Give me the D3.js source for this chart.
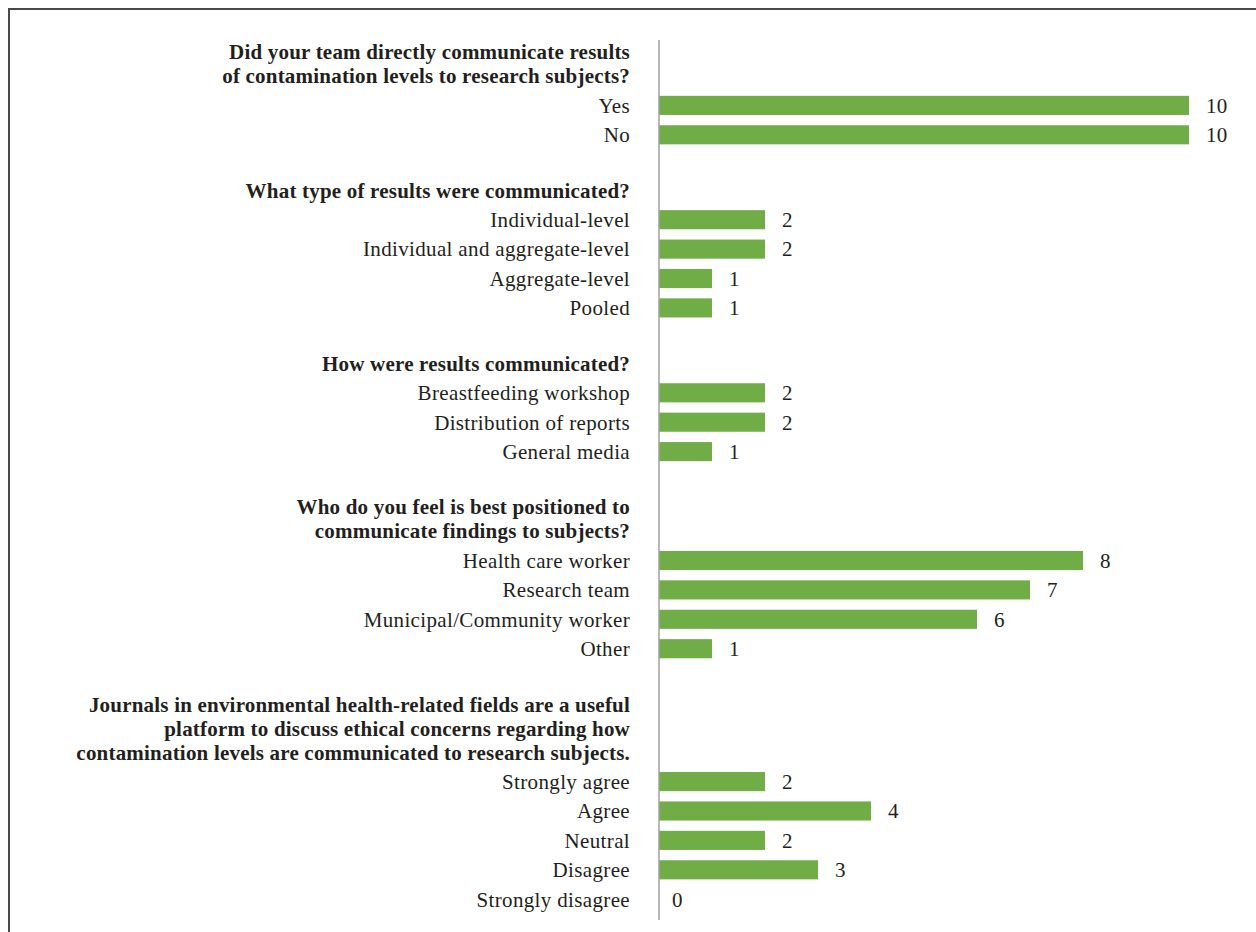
<!DOCTYPE html>
<html><head><meta charset="utf-8">
<script src="https://cdn.jsdelivr.net/npm/d3@7"></script>
<style>
html,body{margin:0;padding:0;background:#fff;}
svg{display:block;}
</style></head>
<body>
<svg id="chart" width="1256" height="932"></svg>
<script>
// ---- data ----
const groupTitles = [
  ["Did your team directly communicate results", "of contamination levels to research subjects?"],
  ["What type of results were communicated?"],
  ["How were results communicated?"],
  ["Who do you feel is best positioned to", "communicate findings to subjects?"],
  ["Journals in environmental health-related fields are a useful", "platform to discuss ethical concerns regarding how", "contamination levels are communicated to research subjects."]
];
const groupCategories = [
  ["Yes", "No"],
  ["Individual-level", "Individual and aggregate-level", "Aggregate-level", "Pooled"],
  ["Breastfeeding workshop", "Distribution of reports", "General media"],
  ["Health care worker", "Research team", "Municipal/Community worker", "Other"],
  ["Strongly agree", "Agree", "Neutral", "Disagree", "Strongly disagree"]
];
const groupValues = [
  [10, 10],
  [2, 2, 1, 1],
  [2, 2, 1],
  [8, 7, 6, 1],
  [2, 4, 2, 3, 0]
];

// ---- layout ----
const svg = d3.select("#chart");
const axisX = 659;
const x = d3.scaleLinear().domain([0, 10]).range([axisX, axisX + 530]);
const titleLine = 24, rowPitch = 29.4, groupGap = 55.5;
const font = "'Liberation Serif', 'Times New Roman', serif";
const ink = "#231f20";

// frame
svg.append("path")
  .attr("d", "M9,932 L9,9 L1256,9")
  .attr("fill", "none").attr("stroke", "#4a4a4a").attr("stroke-width", 2);

let y0 = 52;
groupTitles.forEach((lines, gi) => {
  const g = svg.append("g");
  lines.forEach((t, li) => {
    g.append("text")
      .attr("x", 630).attr("y", y0 + li * titleLine)
      .attr("dy", "0.35em")
      .attr("text-anchor", "end")
      .attr("font-family", font).attr("font-weight", "bold")
      .attr("font-size", 21).attr("letter-spacing", 0.2).attr("fill", ink)
      .text(t);
  });
  const cats = groupCategories[gi], vals = groupValues[gi];
  const firstItem = y0 + (lines.length - 1) * titleLine + rowPitch;
  const y = d3.scaleBand().domain(cats)
    .range([firstItem - rowPitch / 2, firstItem - rowPitch / 2 + cats.length * rowPitch])
    .paddingInner(0.35).paddingOuter(0.175);
  cats.forEach((c, i) => {
    const cy = y(c) + y.bandwidth() / 2;
    g.append("text")
      .attr("x", 630).attr("y", cy).attr("dy", "0.35em")
      .attr("text-anchor", "end")
      .attr("font-family", font).attr("font-size", 21).attr("letter-spacing", 0.35).attr("fill", ink)
      .text(c);
    if (vals[i] > 0) {
      g.append("rect")
        .attr("x", x(0)).attr("y", y(c))
        .attr("width", x(vals[i]) - x(0)).attr("height", y.bandwidth())
        .attr("fill", "#70ad47");
    }
    g.append("text")
      .attr("x", x(vals[i]) + (vals[i] > 0 ? 17 : 13)).attr("y", cy).attr("dy", "0.35em")
      .attr("font-family", font).attr("font-size", 21).attr("letter-spacing", 0.35).attr("fill", ink)
      .text(vals[i]);
  });
  y0 = firstItem + (cats.length - 1) * rowPitch + groupGap;
});

// vertical axis line
svg.append("line")
  .attr("x1", axisX).attr("x2", axisX).attr("y1", 40).attr("y2", 920)
  .attr("stroke", "#a0a0a0").attr("stroke-width", 1.5);
</script>
</body></html>
